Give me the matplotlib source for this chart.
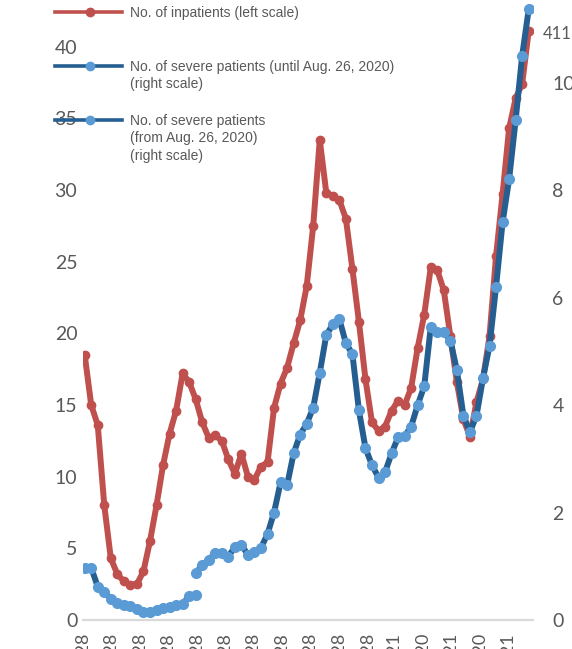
import numpy as np
import pandas as pd
import matplotlib
matplotlib.use("Agg")
import matplotlib.pyplot as plt
from matplotlib.lines import Line2D

# weekly observations
dates = pd.date_range("2020-04-29", periods=69, freq="7D")

# No. of inpatients (left scale)
inpatients = [18.5, 15.0, 13.6, 8.0, 4.3, 3.2, 2.7, 2.45, 2.5, 3.4,
              5.5, 8.0, 10.8, 13.0, 14.6, 17.2, 16.6, 15.4, 13.8, 12.7,
              12.9, 12.5, 11.2, 10.2, 11.6, 10.0, 9.8, 10.7, 11.0, 14.8,
              16.5, 17.6, 19.3, 20.9, 23.3, 27.5, 33.5, 29.8, 29.6, 29.3,
              28.0, 24.5, 20.8, 16.8, 13.8, 13.2, 13.5, 14.6, 15.3, 15.0,
              16.2, 19.0, 21.3, 24.6, 24.4, 23.0, 19.8, 16.6, 14.0, 12.8,
              15.2, 16.8, 19.8, 25.4, 29.7, 34.3, 36.4, 37.4, 41.1]

# No. of severe patients (right scale), old definition until Aug. 26, 2020
severe_old = [0.97, 0.97, 0.62, 0.52, 0.40, 0.32, 0.28, 0.26, 0.20, 0.15,
              0.15, 0.19, 0.23, 0.25, 0.27, 0.30, 0.44, 0.47]
# new definition from Aug. 26, 2020
severe_new = [0.87, 1.02, 1.12, 1.25, 1.25, 1.18, 1.36, 1.40, 1.21, 1.27,
              1.34, 1.60, 2.00, 2.56, 2.51, 3.10, 3.45, 3.65, 3.95, 4.60,
              5.30, 5.50, 5.60, 5.15, 4.95, 3.90, 3.20, 2.88, 2.65, 2.75,
              3.10, 3.40, 3.42, 3.60, 4.00, 4.35, 5.45, 5.35, 5.36, 5.20,
              4.65, 3.80, 3.50, 3.80, 4.50, 5.10, 6.20, 7.40, 8.20, 9.30,
              10.50, 11.36]

tick_dates = pd.date_range("2020-04-28", periods=16, freq=pd.DateOffset(months=1))
tick_labels = ["Apr. 28", "May 28", "Jun. 28", "Jul. 28", "Aug. 28", "Sep. 28",
               "Oct. 28", "Nov. 28", "Dec. 28", "Jan. 28", "Feb. 28",
               "Mar. 21", "Apr. 20", "May 21", "Jun. 20", "Jul. 21"]

last_label = "411"

red = "#c0504d"
dark_blue = "#255e91"
light_blue = "#5b9bd5"
txt = "#595959"

plt.rcParams["font.family"] = ["Lato", "DejaVu Sans"]

fig = plt.figure(figsize=(5.72, 6.49), dpi=100)
ax = fig.add_axes([0.1448, 29 / 649, 0.787, 1.0385 - 29 / 649])
ax2 = ax.twinx()

ax.plot(dates, inpatients, color=red, lw=4.3, marker="o", ms=6,
        mfc=red, mec=red, solid_capstyle="round", solid_joinstyle="round")
n_old = len(severe_old)
ax2.plot(dates[:n_old], severe_old, color=dark_blue, lw=4.3, marker="o", ms=7,
         mfc=light_blue, mec=light_blue, solid_joinstyle="round")
ax2.plot(dates[n_old - 1:], severe_new, color=dark_blue, lw=4.3, marker="o", ms=7,
         mfc=light_blue, mec=light_blue, solid_joinstyle="round")

ax.annotate(last_label, (dates[-1], inpatients[-1]), xytext=(10, -2),
            textcoords="offset points", ha="left", va="center",
            color=txt, fontsize=12)

ax.set_xlim(dates[0] - pd.Timedelta(days=2), dates[-1] + pd.Timedelta(days=4.6))
ax.set_ylim(0, 45)
ax.set_yticks(np.arange(0, 41, 5))
ax2.set_ylim(0, 12)
ax2.set_yticks(np.arange(0, 11, 2))

ax.set_xticks(tick_dates)
ax.set_xticklabels(tick_labels, rotation=90, ha="center", va="top")

for a in (ax, ax2):
    for s in ("top", "left", "right"):
        a.spines[s].set_visible(False)
    a.spines["bottom"].set_color("#d9d9d9")
    a.spines["bottom"].set_linewidth(1.6)
ax2.spines["bottom"].set_visible(False)

ax.tick_params(axis="y", length=0, pad=4, labelsize=14, labelcolor=txt)
ax2.tick_params(axis="y", length=0, pad=14, labelsize=14, labelcolor=txt)
ax.tick_params(axis="x", length=0, pad=10, labelsize=13, labelcolor=txt)

# legend drawn by hand at the top left
H = 649.0
entries = [
    (12, red, red, "No. of inpatients (left scale)"),
    (66, dark_blue, light_blue, "No. of severe patients (until Aug. 26, 2020)\n(right scale)"),
    (120, dark_blue, light_blue, "No. of severe patients\n(from Aug. 26, 2020)\n(right scale)"),
]
for ypx, lc, mc, label in entries:
    yf = 1 - ypx / H
    fig.add_artist(Line2D([55 / 572, 122 / 572], [yf, yf], transform=fig.transFigure,
                          color=lc, lw=2.6))
    fig.add_artist(Line2D([90 / 572], [yf], transform=fig.transFigure, marker="o",
                          ms=6, color=mc, mec=mc, lw=0))
    fig.text(130 / 572, yf + 6 / H, label, ha="left", va="top", fontsize=10,
             color=txt, family=["Liberation Sans", "DejaVu Sans"], linespacing=1.3)

fig.savefig("out.png", dpi=100)
